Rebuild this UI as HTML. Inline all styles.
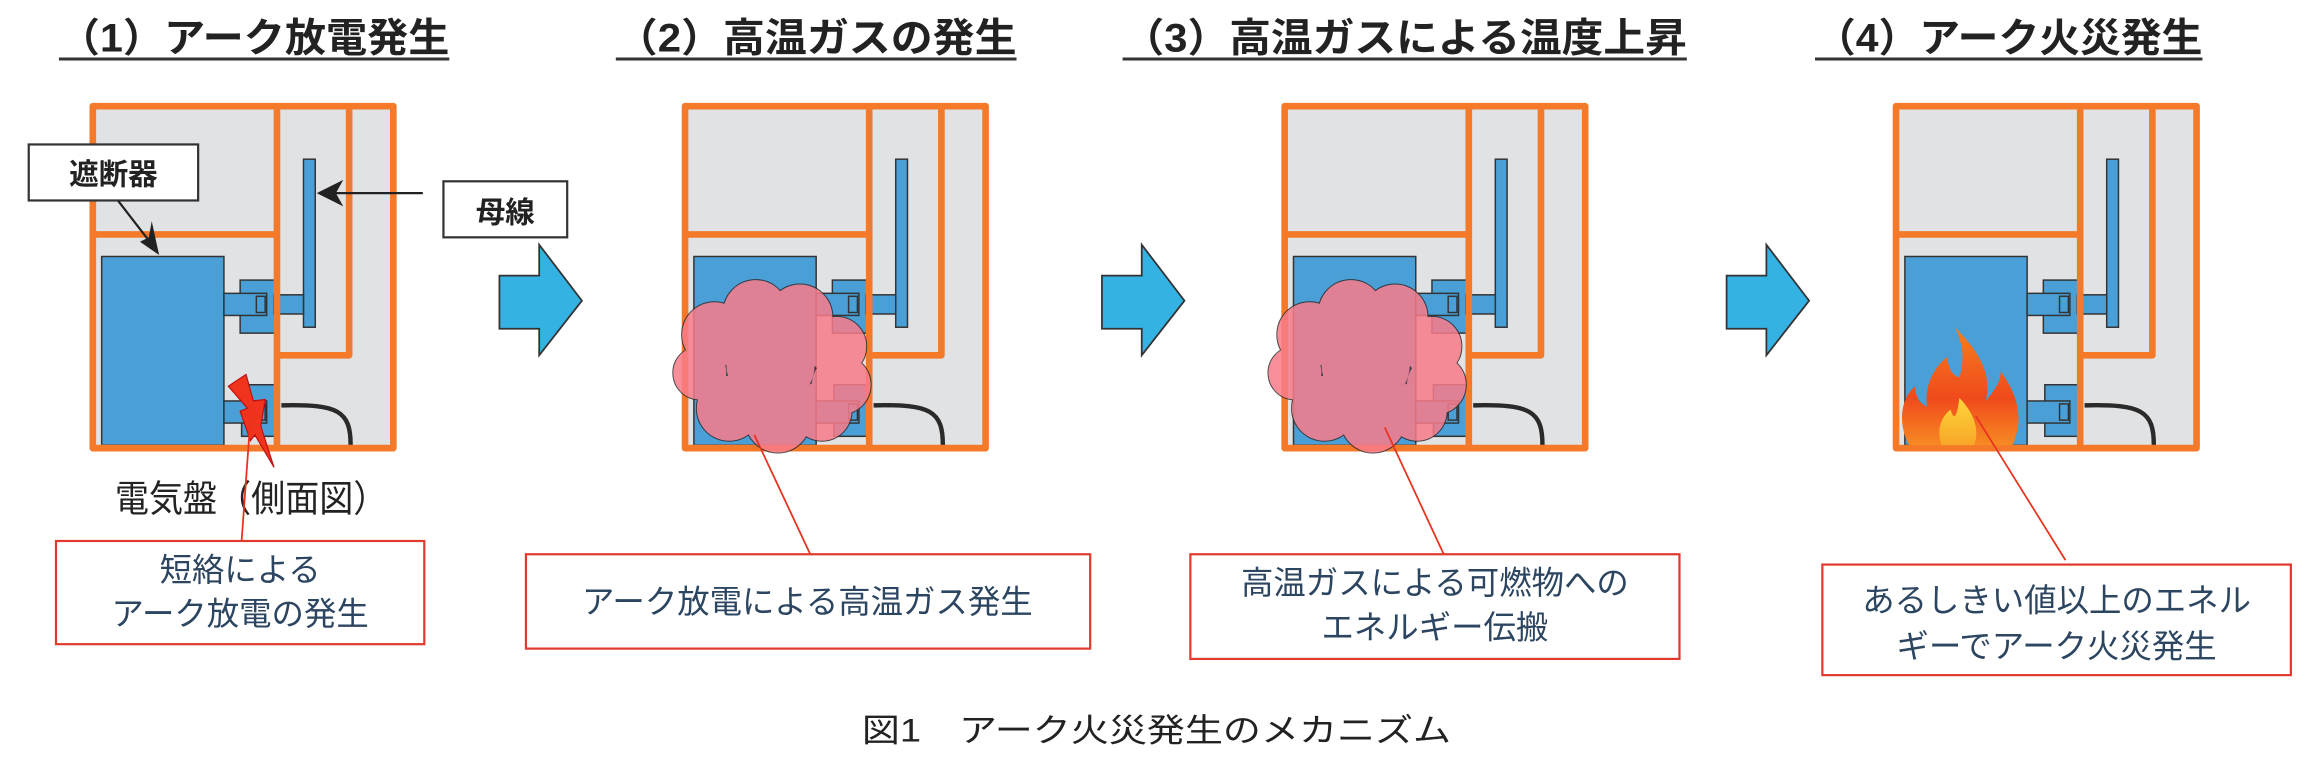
<!DOCTYPE html>
<html><head><meta charset="utf-8"><style>
html,body{margin:0;padding:0;background:#fff;}
svg{display:block;}
text{font-family:"Liberation Sans","Noto Sans CJK JP",sans-serif;}
</style></head><body>
<svg width="2310" height="768" viewBox="0 0 1568 521" preserveAspectRatio="none" xmlns="http://www.w3.org/2000/svg">
<defs>
<g id="panel">
  <rect x="63" y="72" width="204" height="232" fill="#e1e2e4"/>
  <rect x="69" y="174" width="83" height="128" fill="#4a9fd6" stroke="#333" stroke-width="1"/>
  <rect x="206" y="108" width="8" height="114" fill="#4a9fd6" stroke="#333" stroke-width="1"/>
  <rect x="163" y="190" width="24" height="36" fill="#4a9fd6" stroke="#333" stroke-width="1"/>
  <rect x="186" y="200" width="20" height="13" fill="#4a9fd6" stroke="#333" stroke-width="1"/>
  <rect x="152" y="199" width="29" height="15" fill="#4a9fd6" stroke="#333" stroke-width="1"/>
  <rect x="174" y="201" width="6" height="11" fill="none" stroke="#333" stroke-width="1"/>
  <rect x="164" y="261" width="23" height="35" fill="#4a9fd6" stroke="#333" stroke-width="1"/>
  <rect x="152" y="272" width="29" height="15" fill="#4a9fd6" stroke="#333" stroke-width="1"/>
  <rect x="174" y="274" width="6" height="11" fill="none" stroke="#333" stroke-width="1"/>
  <path d="M191,275 C230,274 238,279 238,302" fill="none" stroke="#2a2a2a" stroke-width="3"/>
  <g fill="none" stroke="#f47a2a" stroke-width="4.5" stroke-linejoin="round">
    <rect x="63" y="72" width="204" height="232"/>
    <line x1="63" y1="159" x2="188" y2="159"/>
    <line x1="188" y1="72" x2="188" y2="304"/>
    <polyline points="237,72 237,241 188,241"/>
  </g>
</g>
<g id="cloud">
  <circle cx="0" cy="0" r="30"/>
  <circle cx="-38" cy="-20" r="22"/>
  <circle cx="-10" cy="-35" r="22"/>
  <circle cx="20" cy="-32" r="22"/>
  <circle cx="45" cy="-12" r="20"/>
  <circle cx="48" cy="14" r="20"/>
  <circle cx="35" cy="32" r="20"/>
  <circle cx="5" cy="38" r="22"/>
  <circle cx="-28" cy="30" r="22"/>
  <circle cx="-48" cy="6" r="18"/>
</g>
<linearGradient id="fg" x1="0" y1="0" x2="0" y2="1">
  <stop offset="0" stop-color="#f5801e"/><stop offset="0.6" stop-color="#f04a1c"/><stop offset="1" stop-color="#f68a22"/>
</linearGradient>
<linearGradient id="fg2" x1="0" y1="0" x2="0" y2="1">
  <stop offset="0" stop-color="#ffd63a"/><stop offset="1" stop-color="#f7a728"/>
</linearGradient>
</defs>

<!-- Titles -->
<g font-weight="bold" font-size="27" fill="#222">
<text x="40" y="35" textLength="265" lengthAdjust="spacingAndGlyphs">（1）アーク放電発生</text>
<text x="418" y="35" textLength="272" lengthAdjust="spacingAndGlyphs">（2）高温ガスの発生</text>
<text x="762" y="35" textLength="383" lengthAdjust="spacingAndGlyphs">（3）高温ガスによる温度上昇</text>
<text x="1232" y="35" textLength="263" lengthAdjust="spacingAndGlyphs">（4）アーク火災発生</text>
</g>
<g stroke="#333" stroke-width="2">
<line x1="40" y1="40" x2="305" y2="40"/>
<line x1="418" y1="40" x2="690" y2="40"/>
<line x1="762" y1="40" x2="1145" y2="40"/>
<line x1="1232" y1="40" x2="1495" y2="40"/>
</g>

<!-- Panels -->
<use href="#panel"/>
<use href="#panel" transform="translate(402,0)"/>
<use href="#panel" transform="translate(809,0)"/>
<use href="#panel" transform="translate(1224,0)"/>

<!-- Panel 1 extras -->
<polygon points="155,262 167,254 172,272 180,271 177,289 186,317 173,295 170,299 163,279 168,277" fill="#f0331c" stroke="#c01010" stroke-width="0.8"/>
<rect x="19.5" y="98" width="115" height="38" fill="#fff" stroke="#333" stroke-width="1.5"/>
<text x="77" y="125" font-size="20" text-anchor="middle" fill="#222" font-weight="bold">遮断器</text>
<line x1="80" y1="136" x2="104" y2="167" stroke="#222" stroke-width="1.5"/>
<polygon points="108,173 95,164 101,161 103,150" fill="#222"/>
<rect x="301" y="123" width="84" height="38" fill="#fff" stroke="#333" stroke-width="1.5"/>
<text x="343" y="151" font-size="20" text-anchor="middle" fill="#222" font-weight="bold">母線</text>
<line x1="287" y1="131" x2="222" y2="131" stroke="#222" stroke-width="1.5"/>
<polygon points="215,131 233,122 228,131 233,140" fill="#222"/>
<text x="78" y="347" font-size="25" fill="#222" textLength="185" lengthAdjust="spacingAndGlyphs">電気盤（側面図）</text>
<line x1="170" y1="284" x2="164" y2="367" stroke="#e8321e" stroke-width="1.2"/>
<rect x="38" y="367" width="250" height="70" fill="#fff" stroke="#e03a2e" stroke-width="1.5"/>
<g font-size="22" fill="#2c4560" text-anchor="middle">
<text x="163" y="394">短絡による</text>
<text x="163" y="424">アーク放電の発生</text>
</g>

<!-- Arrows -->
<g fill="#35b2e4" stroke="#333" stroke-width="1.2">
<polygon points="339,187 366,187 366,166 395,204 366,241 366,223 339,223"/>
<polygon points="748,187 775,187 775,166 804,204 775,241 775,223 748,223"/>
<polygon points="1172,187 1199,187 1199,166 1228,204 1199,241 1199,223 1172,223"/>
</g>

<!-- Clouds -->
<g opacity="0.85">
  <use href="#cloud" transform="translate(523,247)" fill="#f97b8a" stroke="#2a2a2a" stroke-width="1.3"/>
  <use href="#cloud" transform="translate(523,247)" fill="#f97b8a"/>
</g>
<g opacity="0.85">
  <use href="#cloud" transform="translate(927,247)" fill="#f97b8a" stroke="#2a2a2a" stroke-width="1.3"/>
  <use href="#cloud" transform="translate(927,247)" fill="#f97b8a"/>
</g>

<!-- Flame -->
<path d="M1327,222 C1345,240 1352,255 1348,272 C1356,262 1358,258 1358,252 C1370,268 1374,285 1366,302 L1296,302 C1288,288 1290,270 1300,262 C1300,270 1304,274 1308,276 C1306,260 1314,248 1322,242 C1322,250 1326,255 1330,256 C1334,244 1332,232 1327,222 Z" fill="url(#fg)"/>
<path d="M1330,270 C1340,280 1344,292 1340,302 L1318,302 C1314,292 1318,282 1324,278 C1326,284 1328,286 1330,270 Z" fill="url(#fg2)"/>

<!-- Leaders & boxes -->
<line x1="512" y1="295" x2="550" y2="376" stroke="#e8321e" stroke-width="1.2"/>
<rect x="357" y="376" width="383" height="64" fill="#fff" stroke="#e03a2e" stroke-width="1.5"/>
<text x="548" y="416" font-size="22" fill="#2c4560" text-anchor="middle">アーク放電による高温ガス発生</text>

<line x1="940" y1="290" x2="980" y2="376" stroke="#e8321e" stroke-width="1.2"/>
<rect x="808" y="376" width="332" height="71" fill="#fff" stroke="#e03a2e" stroke-width="1.5"/>
<g font-size="22" fill="#2c4560" text-anchor="middle">
<text x="974" y="403">高温ガスによる可燃物への</text>
<text x="974" y="433">エネルギー伝搬</text>
</g>

<line x1="1341" y1="282" x2="1402" y2="380" stroke="#e8321e" stroke-width="1.2"/>
<rect x="1237" y="383" width="318" height="75" fill="#fff" stroke="#e03a2e" stroke-width="1.5"/>
<g font-size="22" fill="#2c4560" text-anchor="middle">
<text x="1396" y="415">あるしきい値以上のエネル</text>
<text x="1396" y="446">ギーでアーク火災発生</text>
</g>

<!-- Caption -->
<text x="585" y="503" font-size="22" fill="#222" textLength="400" lengthAdjust="spacingAndGlyphs">図1　アーク火災発生のメカニズム</text>
</svg>
</body></html>
